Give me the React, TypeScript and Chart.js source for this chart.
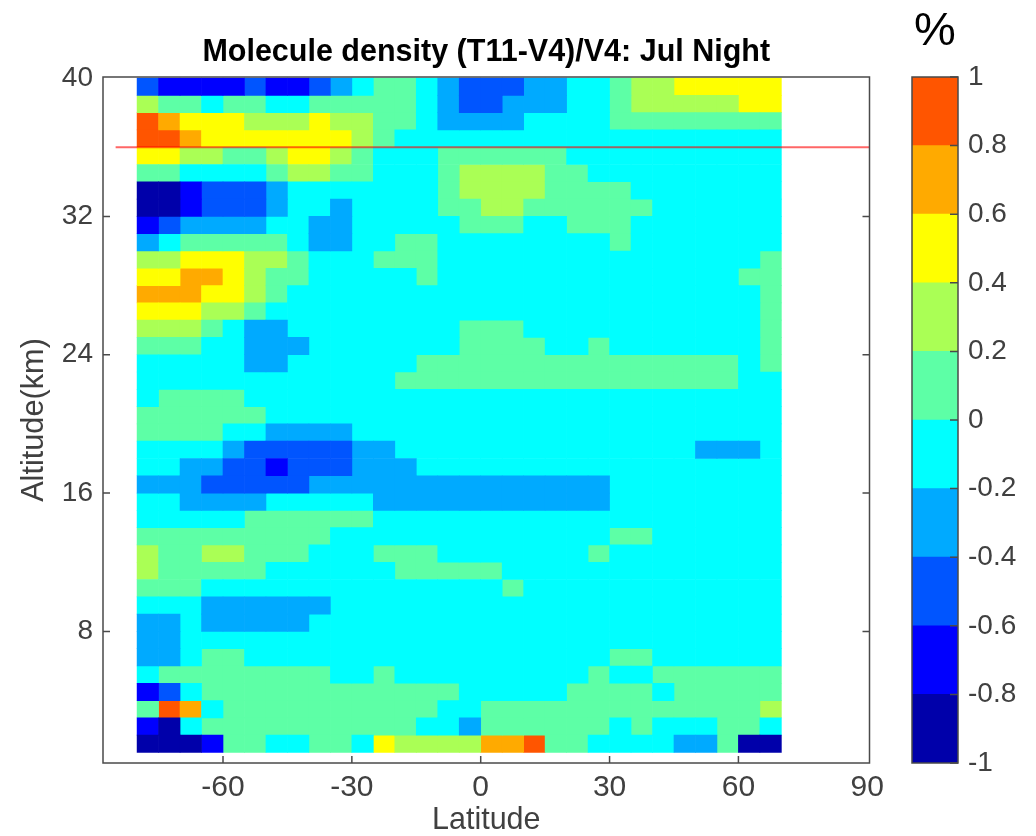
import React, { useEffect, useRef } from "react";
import { Chart, registerables } from "chart.js";

Chart.register(...registerables);

const TITLE = "Molecule density (T11-V4)/V4: Jul Night";
const X_LABEL = "Latitude";
const Y_LABEL = "Altitude(km)";
const UNIT = "%";

const latTicks = [-60, -30, 0, 30, 60, 90];
const altTicks = [8, 16, 24, 32, 40];
const firstLat = -77.5;
const latStep = 5;
const topAltitude = 40;
const cutoffAltitude = 36;
const cutoffLats = [-85, 90.5];

// Colour classes, each 0.2 wide, from -1 to 1
const classLow = [-1, -0.8, -0.6, -0.4, -0.2, 0, 0.2, 0.4, 0.6, 0.8];
const classColor = [
  "#0000aa", "#0000ff", "#0055ff", "#00aaff", "#00ffff",
  "#5dffa6", "#aaff55", "#ffff00", "#ffaa00", "#ff5500",
];

// One row per km from 40 km down to 1 km, one digit per 5 degree latitude bin,
// the digit being the colour class.
const altitudeRows = [
  "21111 21123 45543 22233 44566 77777",
  "65545 54455 55543 22333 44566 66677",
  "98777 66676 65543 33344 44555 55555",
  "99877 77777 65444 44444 44444 44444",
  "77665 56776 54445 55555 44444 44444",
  "55444 45665 54445 66665 54444 44444",
  "00122 23444 44445 66665 55544 44444",
  "00122 23443 44445 56655 55554 44444",
  "12333 34433 44444 55544 55544 44444",
  "34555 55433 44554 44444 44544 44444",
  "66777 66544 45554 44444 44444 44445",
  "77887 65544 44454 44444 44444 44455",
  "88877 65444 44444 44444 44444 44445",
  "77766 54444 44444 44444 44444 44445",
  "66654 33444 44444 55544 44444 44445",
  "55544 33344 44444 55554 45444 44445",
  "44444 33444 44455 55555 55555 55545",
  "44444 44444 44555 55555 55555 55544",
  "45555 44444 44444 44444 44444 44444",
  "55555 54444 44444 44444 44444 44444",
  "55554 43333 44444 44444 44444 44444",
  "44443 22222 33444 44444 44444 43334",
  "44332 21222 33344 44444 44444 44444",
  "33322 22233 33333 33333 33444 44444",
  "44333 34444 43333 33333 33444 44444",
  "44444 55555 54444 44444 44444 44444",
  "55555 55554 44444 44444 44554 44444",
  "65566 55544 45554 44444 45444 44444",
  "65555 54444 44555 55444 44444 44444",
  "55544 44444 44444 44544 44444 44444",
  "44433 33334 44444 44444 44444 44444",
  "33433 33344 44444 44444 44444 44444",
  "33444 44444 44444 44444 44444 44444",
  "33455 44444 44444 44444 44554 44444",
  "45555 55554 45444 44444 45445 55555",
  "12455 55555 55555 44444 55554 55555",
  "59845 55555 55554 45555 55555 55556",
  "10455 55555 55544 35555 55454 44554",
  "00015 54455 47666 68895 54444 33500",
];

const INK = "#4a4a4a";
const TEXT = "#404040";
const FONT = "'Liberation Sans', Arial, sans-serif";

function cellDatasets() {
  const cells: { x: number; y: [number, number] }[][] = classLow.map(() => []);
  altitudeRows.forEach((row, r) => {
    row.replace(/ /g, "").split("").forEach((digit, c) => {
      cells[Number(digit)].push({
        x: firstLat + c * latStep,
        y: [topAltitude - r - 1, topAltitude - r],
      });
    });
  });
  return cells.map((data, i) => ({
    type: "bar" as const,
    label: String(classLow[i]),
    data,
    backgroundColor: classColor[i],
    borderWidth: 0,
    barPercentage: 1,
    categoryPercentage: 1,
    grouped: false,
    order: 2,
  }));
}

const mainFrame = {
  id: "mainFrame",
  afterDatasetsDraw(chart: any) {
    const { ctx, chartArea: a, scales } = chart;
    ctx.save();
    ctx.strokeStyle = INK;
    ctx.lineWidth = 1.5;
    ctx.strokeRect(a.left, a.top, a.right - a.left, a.bottom - a.top);
    ctx.beginPath();
    scales.x.ticks.forEach((t: any) => {
      if (t.value >= 90) return;
      const x = scales.x.getPixelForValue(t.value);
      ctx.moveTo(x, a.bottom);
      ctx.lineTo(x, a.bottom - 7);
    });
    scales.y.ticks.forEach((t: any) => {
      if (t.value >= 40) return;
      const y = scales.y.getPixelForValue(t.value);
      ctx.moveTo(a.left, y);
      ctx.lineTo(a.left + 7, y);
      ctx.moveTo(a.right, y);
      ctx.lineTo(a.right - 7, y);
    });
    ctx.stroke();
    ctx.restore();
  },
};

const barFrame = {
  id: "barFrame",
  afterDatasetsDraw(chart: any) {
    const { ctx, chartArea: a, scales } = chart;
    ctx.save();
    ctx.strokeStyle = INK;
    ctx.lineWidth = 1.5;
    ctx.strokeRect(a.left, a.top, a.right - a.left, a.bottom - a.top);
    ctx.beginPath();
    scales.y.ticks.forEach((t: any) => {
      const y = scales.y.getPixelForValue(t.value);
      ctx.moveTo(a.right, y);
      ctx.lineTo(a.right - 8, y);
    });
    ctx.stroke();
    ctx.restore();
  },
};

export default function App() {
  const mainRef = useRef<HTMLCanvasElement>(null);
  const barRef = useRef<HTMLCanvasElement>(null);

  useEffect(() => {
    const main = new Chart(mainRef.current as any, {
      type: "bar",
      data: {
        datasets: [
          ...cellDatasets(),
          {
            type: "line" as const,
            label: "cutoff",
            data: cutoffLats.map((x) => ({ x, y: cutoffAltitude })),
            borderColor: "rgba(255,0,0,0.6)",
            borderWidth: 2,
            pointRadius: 0,
            order: 1,
          },
        ] as any,
      },
      options: {
        animation: false,
        responsive: false,
        layout: { padding: { right: 166.5 } },
        plugins: {
          legend: { display: false },
          tooltip: { enabled: false },
          title: {
            display: true,
            text: TITLE,
            color: "#000",
            fullSize: false,
            font: { family: FONT, size: 30.5, weight: "bold", lineHeight: 1 },
            padding: { top: 37, bottom: 9.5 },
          } as any,
        },
        scales: {
          x: {
            type: "linear",
            offset: false,
            min: -87.94,
            max: 90.52,
            grid: { display: false, drawTicks: false },
            border: { display: false },
            afterBuildTicks: (s: any) => {
              s.ticks = latTicks.map((value) => ({ value }));
            },
            afterFit: (s: any) => {
              s.height = 73;
            },
            ticks: {
              autoSkip: false,
              maxRotation: 0,
              color: TEXT,
              padding: 7,
              font: { family: FONT, size: 30 },
            },
            title: {
              display: true,
              text: X_LABEL,
              color: TEXT,
              font: { family: FONT, size: 30.5, lineHeight: 1 },
              padding: { top: 0, bottom: 0 },
            },
          },
          y: {
            type: "linear",
            min: 0.39,
            max: 40.06,
            grid: { display: false, drawTicks: false },
            border: { display: false },
            afterBuildTicks: (s: any) => {
              s.ticks = altTicks.map((value) => ({ value }));
            },
            afterFit: (s: any) => {
              s.width = 103;
            },
            ticks: {
              autoSkip: false,
              color: TEXT,
              padding: 10,
              font: { family: FONT, size: 28 },
            },
            title: {
              display: true,
              text: Y_LABEL,
              color: TEXT,
              font: { family: FONT, size: 30.7, lineHeight: 1 },
              padding: { top: 19, bottom: 0 },
            },
          },
        },
      },
      plugins: [mainFrame],
    } as any);

    const bar = new Chart(barRef.current as any, {
      type: "bar",
      data: {
        labels: [UNIT],
        datasets: classLow.map((low, i) => ({
          label: String(low),
          data: [[low, Number((low + 0.2).toFixed(1))]],
          backgroundColor: classColor[i],
          borderWidth: 0,
          barPercentage: 1,
          categoryPercentage: 1,
          grouped: false,
        })) as any,
      },
      options: {
        animation: false,
        responsive: false,
        layout: { padding: { left: 32, bottom: 73 } },
        plugins: {
          legend: { display: false },
          tooltip: { enabled: false },
          title: {
            display: true,
            text: UNIT,
            color: "#000",
            fullSize: false,
            font: { family: FONT, size: 47, weight: "normal", lineHeight: 1 },
            padding: { top: 9, bottom: 21 },
          } as any,
        },
        scales: {
          x: { display: false },
          y: {
            position: "right",
            min: -1,
            max: 1,
            grid: { display: false, drawTicks: false },
            border: { display: false },
            afterFit: (s: any) => {
              s.width = 78;
            },
            ticks: {
              stepSize: 0.2,
              color: TEXT,
              padding: 10,
              font: { family: FONT, size: 28 },
              callback: (v: any) => String(Number(Number(v).toFixed(1))),
            },
          },
        },
      },
      plugins: [barFrame],
    } as any);

    return () => {
      main.destroy();
      bar.destroy();
    };
  }, []);

  return (
    <div>
      <canvas
        ref={mainRef}
        width={1036}
        height={836}
        style={{ position: "absolute", left: 0, top: 0 }}
      />
      <canvas
        ref={barRef}
        width={156}
        height={836}
        style={{ position: "absolute", left: 880, top: 0 }}
      />
    </div>
  );
}
